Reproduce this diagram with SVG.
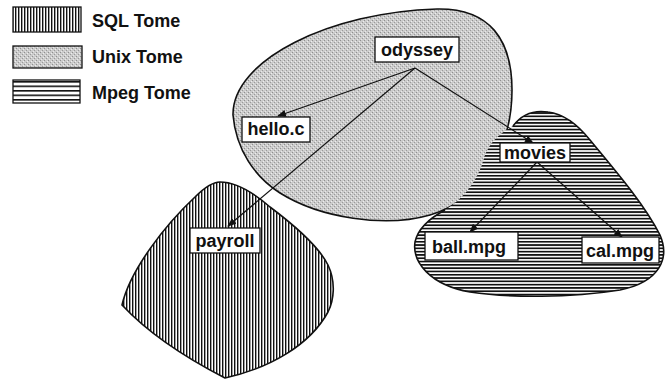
<svg xmlns="http://www.w3.org/2000/svg" width="665" height="381" viewBox="0 0 665 381">
  <defs>
    <pattern id="sql" width="3" height="10" patternUnits="userSpaceOnUse">
      <rect width="3" height="10" fill="#fff"/>
      <rect x="0" y="0" width="1.4" height="10" fill="#111"/>
    </pattern>
    <pattern id="mpeg" width="10" height="3.3" patternUnits="userSpaceOnUse">
      <rect width="10" height="3.3" fill="#fff"/>
      <rect x="0" y="0" width="10" height="1.7" fill="#111"/>
    </pattern>
    <pattern id="mpegLegend" width="10" height="4.5" patternUnits="userSpaceOnUse">
      <rect width="10" height="4.5" fill="#fff"/>
      <rect x="0" y="0" width="10" height="1.6" fill="#111"/>
    </pattern>
    <pattern id="unix" width="4" height="4" patternUnits="userSpaceOnUse">
      <rect width="4" height="4" fill="#cbcbcb"/>
      <rect x="0" y="0" width="1" height="1" fill="#8f8f8f"/>
      <rect x="2" y="2" width="1" height="1" fill="#9a9a9a"/>
      <rect x="3" y="1" width="1" height="1" fill="#eeeeee"/>
      <rect x="1" y="3" width="1" height="1" fill="#e8e8e8"/>
    </pattern>
    <marker id="arr" markerWidth="9" markerHeight="7" refX="8" refY="3.5" orient="auto" markerUnits="userSpaceOnUse">
      <path d="M0,0 L9,3.5 L0,7 Z" fill="#111"/>
    </marker>
    <style>
      .blob { stroke: #111; stroke-width: 1.6; }
      .lbl { font-family: "Liberation Sans", Arial, sans-serif; font-weight: bold; font-size: 18px; fill: #111; }
      .box { fill: #fff; stroke: #111; stroke-width: 1.3; }
      .edge { stroke: #111; stroke-width: 1.2; fill: none; marker-end: url(#arr); }
    </style>
  </defs>

  <g id="legend">
    <rect x="13" y="7" width="68" height="25" fill="url(#sql)" stroke="#111" stroke-width="1.3"/>
    <text class="lbl" x="92" y="27">SQL Tome</text>
    <rect x="13" y="46" width="69" height="22" fill="url(#unix)" stroke="#111" stroke-width="1.3"/>
    <text class="lbl" x="92" y="63">Unix Tome</text>
    <rect x="13" y="80" width="67" height="23" fill="url(#mpegLegend)" stroke="#111" stroke-width="1.3"/>
    <text class="lbl" x="92" y="99">Mpeg Tome</text>
  </g>

  <g id="tome-unix">
    <path class="blob" fill="url(#unix)" d="M 437,9 C 490,8 512,40 512,90 C 512,150 480,200 430,215 C 385,228 320,218 280,193 C 255,177 236,150 233,115 C 232,60 330,12 437,9 Z"/>
  </g>

  <g id="tome-sql">
    <path class="blob" fill="url(#sql)" d="M 220,182 C 238,182 255,194 270,207 C 290,222 318,245 328,265 C 336,282 334,300 328,312 C 310,345 270,368 225,378 C 190,360 150,335 122,305 C 130,270 165,225 195,197 C 203,189 212,182 220,182 Z"/>
  </g>

  <g id="tome-mpeg">
    <path fill="url(#mpeg)" d="M 513,126 C 522,114 535,110 548,112 C 565,114 578,125 590,140 C 615,170 645,205 660,235 C 670,258 660,282 620,290 C 570,298 510,298 470,292 C 430,285 412,262 415,242 C 418,228 430,218 445,210 C 468,196 480,175 485,155 C 490,142 500,133 513,126 Z"/>
    <path class="blob" fill="none" d="M 513,126 C 522,114 535,110 548,112 C 565,114 578,125 590,140 C 615,170 645,205 660,235 C 670,258 660,282 620,290 C 570,298 510,298 470,292 C 430,285 412,262 415,242 C 418,228 430,218 445,210"/>
  </g>

  <g id="connectors">
    <line class="edge" x1="415" y1="68" x2="278" y2="116"/>
    <line class="edge" x1="415" y1="68" x2="228" y2="226"/>
    <line class="edge" x1="415" y1="68" x2="533" y2="143"/>
    <line class="edge" x1="537" y1="162" x2="470" y2="232"/>
    <line class="edge" x1="537" y1="162" x2="622" y2="237"/>
  </g>

  <g id="node-odyssey">
    <rect class="box" x="375" y="37" width="84" height="25"/>
    <text class="lbl" x="417" y="56" text-anchor="middle">odyssey</text>
  </g>
  <g id="node-hello">
    <rect class="box" x="242" y="117" width="68" height="25"/>
    <text class="lbl" x="276" y="135" text-anchor="middle">hello.c</text>
  </g>
  <g id="node-payroll">
    <rect class="box" x="190" y="228" width="70" height="25"/>
    <text class="lbl" x="225" y="247" text-anchor="middle">payroll</text>
  </g>
  <g id="node-movies">
    <rect class="box" x="500" y="143" width="70" height="19"/>
    <text class="lbl" x="535" y="159" text-anchor="middle">movies</text>
  </g>
  <g id="node-ball">
    <rect class="box" x="425" y="232" width="93" height="28"/>
    <text class="lbl" x="469" y="253" text-anchor="middle">ball.mpg</text>
  </g>
  <g id="node-cal">
    <rect class="box" x="582" y="237" width="77" height="26"/>
    <text class="lbl" x="620" y="257" text-anchor="middle">cal.mpg</text>
  </g>
</svg>
